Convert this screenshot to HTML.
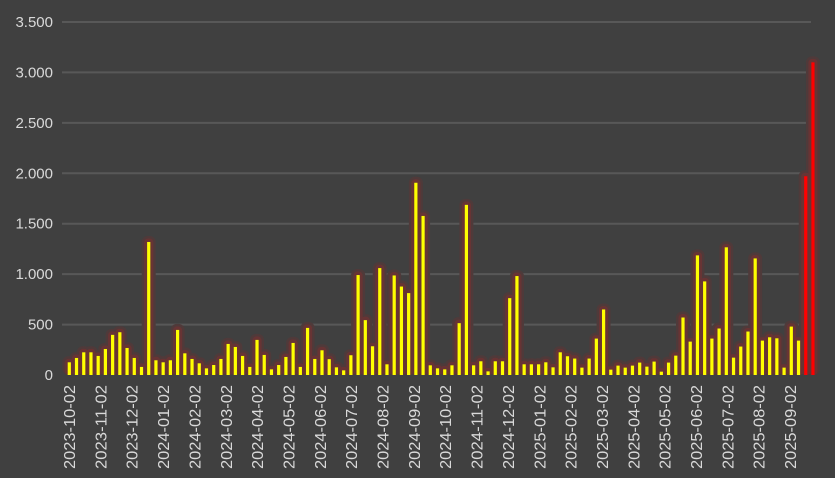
<!DOCTYPE html>
<html><head><meta charset="utf-8"><style>
html,body{margin:0;padding:0;background:#404040;}
svg{display:block;font-family:"Liberation Sans",sans-serif;}
</style></head><body>
<svg width="835" height="478" viewBox="0 0 835 478" xmlns="http://www.w3.org/2000/svg">
<rect width="835" height="478" fill="#404040"/>
<g id="grid" stroke="#585858" stroke-width="2"></g>
<g id="ylab" fill="#d9d9d9" font-size="15" text-anchor="end"></g>
<g id="halo2"></g>
<g id="halo1"></g>
<g id="bars"></g>
<g id="xlab" fill="#d9d9d9" font-size="16"></g>
</svg>
<script>
var ns="http://www.w3.org/2000/svg";
function el(t,a,p,txt){var e=document.createElementNS(ns,t);for(var k in a)e.setAttribute(k,a[k]);if(txt!==undefined)e.textContent=txt;document.getElementById(p).appendChild(e);return e;}
var base=375,sc=(375-22)/3500;
var yl=["0","500","1.000","1.500","2.000","2.500","3.000","3.500"];
for(var i=0;i<8;i++){var y=base-i*500*sc;
 if(i>0)el("line",{x1:62,x2:811,y1:y,y2:y},"grid");
 el("text",{x:53,y:y+5},"ylab",yl[i]);}
var v=[126,169,225,225,189,258,398,424,268,169,80,1319,146,126,146,447,215,159,116,66,99,159,308,278,189,80,348,199,56,99,179,318,80,467,159,
245,157,76,46,196,991,544,285,1060,106,987,877,812,1906,1577,96,66,56,96,514,1687,96,136,36,136,136,762,981,106,106,106,126,76,225,186,
163,73,163,361,650,53,93,73,93,123,83,133,33,123,192,570,331,1186,928,361,461,1266,172,282,431,1156,341,374,364,73,480,341,1971,3100];
for(var i=0;i<v.length;i++){var x=69.3+i*7.22,h=v[i]*sc;
 el("rect",{x:x-7,y:base-h-6,width:14,height:h+6,rx:6,fill:"#4f3a3a"},"halo2");
 el("rect",{x:x-4.6,y:base-h-3.5,width:9.2,height:h+3.5,rx:4,fill:"#683434"},"halo1");
 el("rect",{x:x-1.6,y:base-h,width:3.2,height:h,fill:i>=102?"#ff0000":"#ffff00"},"bars");}
var months=["2023-10-02","2023-11-02","2023-12-02","2024-01-02","2024-02-02","2024-03-02","2024-04-02","2024-05-02","2024-06-02","2024-07-02","2024-08-02","2024-09-02","2024-10-02","2024-11-02","2024-12-02","2025-01-02","2025-02-02","2025-03-02","2025-04-02","2025-05-02","2025-06-02","2025-07-02","2025-08-02","2025-09-02"];
for(var i=0;i<months.length;i++){var x=69.5+i*31.35+5.5;
 el("text",{x:0,y:0,transform:"translate("+x+",469) rotate(-90)",textLength:84,lengthAdjust:"spacingAndGlyphs"},"xlab",months[i]);}
</script>
</body></html>
